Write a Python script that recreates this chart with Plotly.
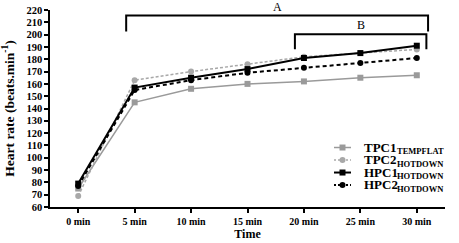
import plotly.graph_objects as go

# ---- data ----
time_labels = ["0 min", "5 min", "10 min", "15 min", "20 min", "25 min", "30 min"]
tpc1_tempflat = [75, 145, 156, 160, 162, 165, 167]
tpc2_hotdown = [69, 163, 170, 176, 182, 185, 188]
hpc1_hotdown = [79, 157, 165, 172, 181, 185, 191]
hpc2_hotdown = [77, 155, 163, 169, 173, 177, 181]
y_ticks = list(range(60, 221, 10))

series_names = ["TPC1", "TPC2", "HPC1", "HPC2"]
series_subs = ["TEMPFLAT", "HOTDOWN", "HOTDOWN", "HOTDOWN"]

# significance brackets: (label, x_left, x_right, y_top, y_bottom)
brackets = [("A", 0.85, 6.2, 215.5, 202.5), ("B", 3.84, 6.17, 200.3, 188.2)]

GRAY = "#9a9a9a"
FONT = "Liberation Serif"
x_idx = list(range(len(time_labels)))

styles = [
    dict(color=GRAY, dash="solid", symbol="square", width=1.5, size=6),
    dict(color="#a8a8a8", dash="3px,2px", symbol="circle", width=1.5, size=6),
    dict(color="black", dash="solid", symbol="square", width=2, size=6),
    dict(color="black", dash="4px,3px", symbol="circle", width=2, size=6),
]
values = [tpc1_tempflat, tpc2_hotdown, hpc1_hotdown, hpc2_hotdown]

fig = go.Figure()
for vals, st, nm in zip(values, styles, series_names):
    fig.add_trace(go.Scatter(
        x=x_idx, y=vals, mode="lines+markers", name=nm, showlegend=False,
        line=dict(color=st["color"], dash=st["dash"], width=st["width"]),
        marker=dict(symbol=st["symbol"], size=st["size"], color=st["color"]),
    ))

# manual legend on an overlay axis in [0,1]
leg_y = [0.302, 0.239, 0.175, 0.112]
for ly, st, nm, sub in zip(leg_y, styles, series_names, series_subs):
    fig.add_trace(go.Scatter(
        x=[0.719, 0.762], y=[ly, ly], mode="lines", xaxis="x2", yaxis="y2",
        showlegend=False, hoverinfo="skip",
        line=dict(color=st["color"], dash=st["dash"] if st["dash"] == "solid" else "2px,2px", width=st["width"]),
    ))
    fig.add_trace(go.Scatter(
        x=[0.7405], y=[ly], mode="markers", xaxis="x2", yaxis="y2",
        showlegend=False, hoverinfo="skip",
        marker=dict(symbol=st["symbol"], size=st["size"], color=st["color"]),
    ))
    fig.add_annotation(
        x=0.792, y=ly, xref="paper", yref="paper", xanchor="left", yanchor="middle",
        text=f"<b>{nm}</b>", showarrow=False, borderpad=0,
        font=dict(family=FONT, size=13, color="black"),
    )
    fig.add_annotation(
        x=0.875, y=ly - 0.02, xref="paper", yref="paper", xanchor="left", yanchor="middle",
        text=f"<b>{sub}</b>", showarrow=False, borderpad=0,
        font=dict(family=FONT, size=8.5, color="black"),
    )

for lab, xl, xr, yt, yb in brackets:
    fig.add_shape(type="path", xref="x", yref="y",
                  path=f"M {xl},{yb} L {xl},{yt} L {xr},{yt} L {xr},{yb}",
                  line=dict(color="black", width=2))
    fig.add_annotation(x=(xl + xr) / 2, y=yt, xref="x", yref="y", yanchor="bottom",
                       yshift=0, text=lab, showarrow=False,
                       font=dict(family=FONT, size=12, color="black"))

fig.update_layout(
    width=459, height=243,
    margin=dict(l=50, r=14, t=10, b=36),
    paper_bgcolor="white", plot_bgcolor="white",
    font=dict(family=FONT, color="black"),
    xaxis=dict(range=[-0.5, 6.5], tickvals=x_idx, ticktext=[f"<b>{t}</b>" for t in time_labels],
               automargin=False,
               showgrid=False, zeroline=False, showline=True, linecolor="black", linewidth=1.5,
               ticks="outside", ticklen=4, tickwidth=1.5, tickcolor="black",
               tickfont=dict(family=FONT, size=10),
               title=dict(text="<b>Time</b>", font=dict(family=FONT, size=12), standoff=4)),
    yaxis=dict(range=[60, 220], tickvals=y_ticks, ticktext=[f"<b>{v}</b>" for v in y_ticks],
               automargin=False,
               showgrid=False, zeroline=False, showline=True, linecolor="black", linewidth=1.5,
               ticks="outside", ticklen=4, tickwidth=1.5, tickcolor="black",
               tickfont=dict(family=FONT, size=10.5),
               title=dict(text="<b>Heart rate (beats.min<sup>-1</sup>)</b>",
                          font=dict(family=FONT, size=13.5), standoff=9)),
    xaxis2=dict(range=[0, 1], overlaying="x", visible=False, fixedrange=True),
    yaxis2=dict(range=[0, 1], overlaying="y", visible=False, fixedrange=True),
)

fig.write_html("out.html", config={"displayModeBar": False},
               post_script="document.body.style.margin='0';")
